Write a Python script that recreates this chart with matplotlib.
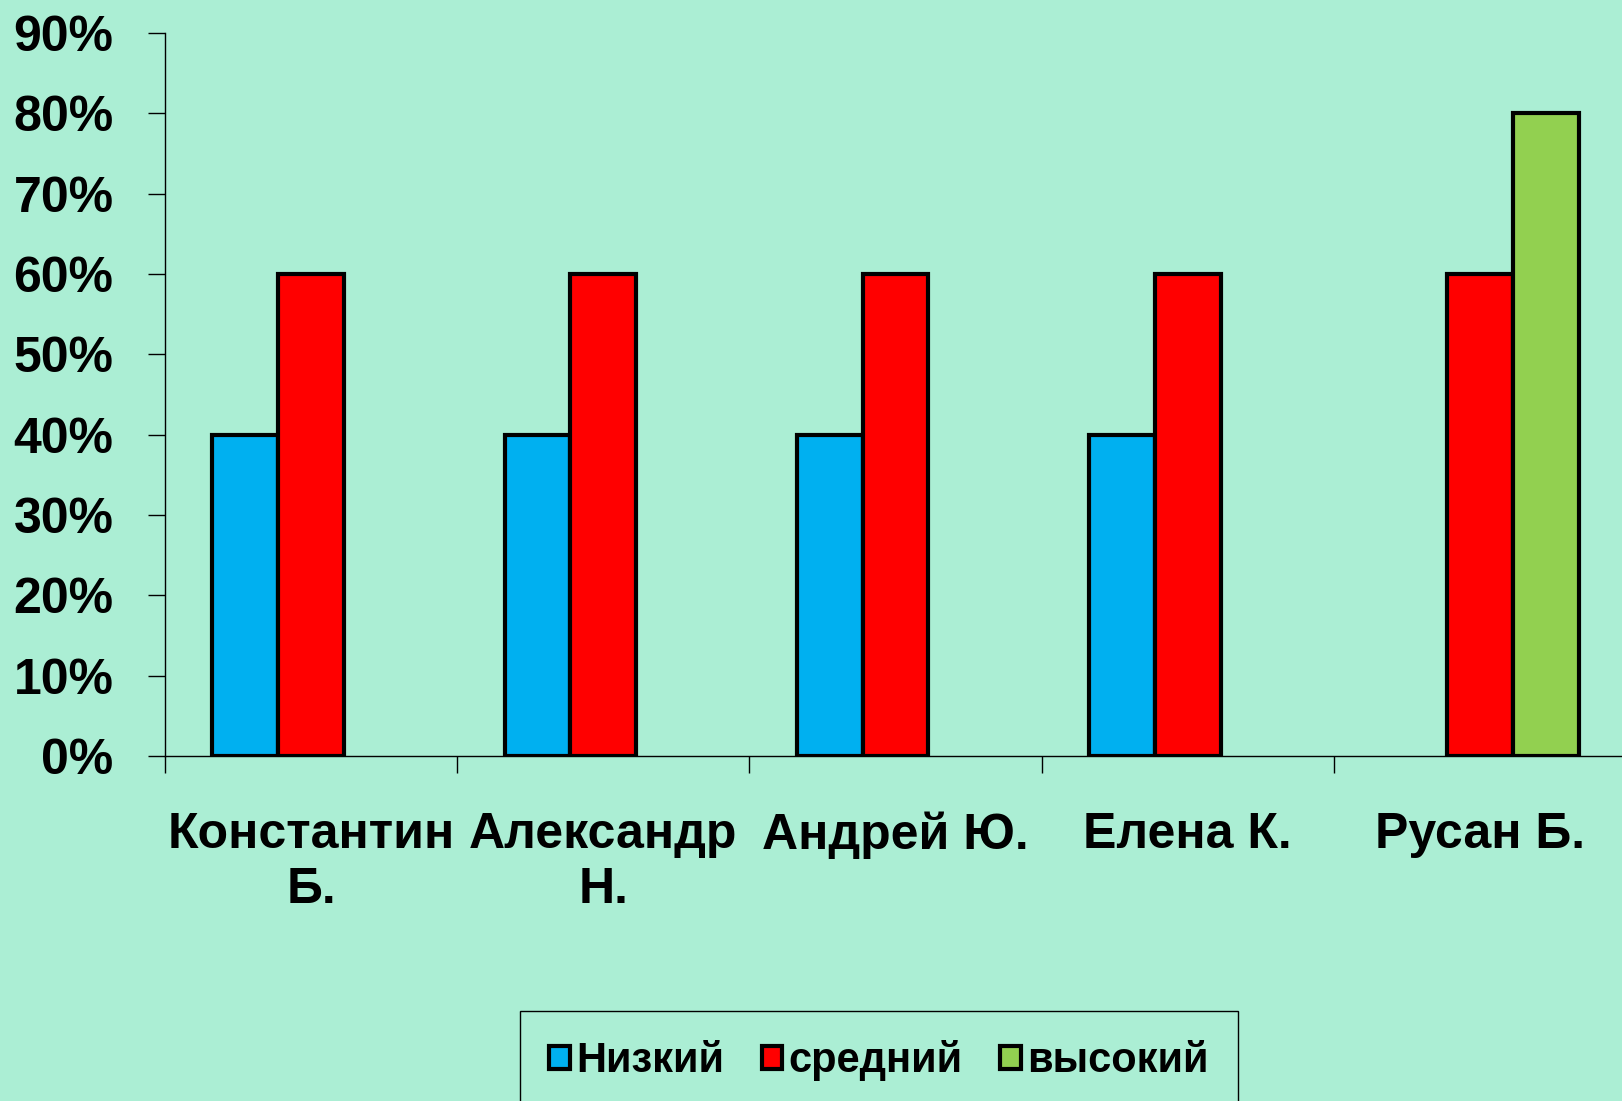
"""
Уровни по ученикам: низкий / средний / высокий
"""
import matplotlib
matplotlib.use('Agg')
import matplotlib.pyplot as plt
import matplotlib.ticker as mticker
import numpy as np

plt.rcParams['font.family'] = ['Liberation Sans', 'DejaVu Sans']
plt.rcParams['font.weight'] = 'bold'

BG = '#ABEED4'
BLUE = '#00B0F0'
RED = '#FF0000'
GREEN = '#92D050'

names = ['Константин\nБ.', 'Александр\nН.', 'Андрей Ю.', 'Елена К.', 'Русан Б.']
series = ['Низкий', 'средний', 'высокий']
low = [0.40, 0.40, 0.40, 0.40, 0.0]
mid = [0.60, 0.60, 0.60, 0.60, 0.60]
high = [0.0, 0.0, 0.0, 0.0, 0.80]
colors = [BLUE, RED, GREEN]

W, H = 1622, 1101
fig = plt.figure(figsize=(W / 100, H / 100), dpi=100, facecolor=BG)
ax = fig.add_axes([165 / W, 1 - 756 / H, 1461 / W, (756 - 33) / H])
ax.set_facecolor(BG)

x = np.arange(len(names))
bw = 0.225
for i, (vals, col, lab) in enumerate(zip([low, mid, high], colors, series)):
    v = np.array(vals)
    mask = v > 0
    ax.bar(x[mask] + (i - 1) * bw, v[mask], width=bw, color=col,
           edgecolor='black', linewidth=3.0, label=lab, zorder=3)

ax.set_xlim(-0.5, len(names) - 0.5)
ax.set_ylim(0, 0.9)
ax.yaxis.set_major_locator(mticker.MultipleLocator(0.1))
ax.yaxis.set_major_formatter(mticker.PercentFormatter(1.0, decimals=0))

ax.set_xticks(x)
ax.set_xticklabels(names, fontsize=36, fontweight='bold', linespacing=1.25)
ax.set_xticks(np.arange(-0.5, len(names), 1.0), minor=True)
ax.tick_params(axis='x', which='major', length=0, pad=40)
ax.tick_params(axis='x', which='minor', length=12, width=1, direction='out')
ax.tick_params(axis='y', length=12, width=1, direction='out', pad=25, labelsize=36)
for t in ax.get_yticklabels():
    t.set_fontweight('bold')

ax.spines['top'].set_visible(False)
ax.spines['right'].set_visible(False)
ax.spines['left'].set_linewidth(1)
ax.spines['bottom'].set_linewidth(1)

leg = fig.legend(loc='upper center', bbox_to_anchor=(879 / W, 1 - 1011 / H),
                 ncol=3, fontsize=30, frameon=True, fancybox=False,
                 edgecolor='black', facecolor=BG, framealpha=1,
                 handlelength=0.5, handleheight=0.5, handletextpad=0.15,
                 columnspacing=0.9, borderpad=0.7, borderaxespad=0)
leg.get_frame().set_linewidth(1)
for t in leg.get_texts():
    t.set_fontweight('bold')

plt.savefig('out.png', dpi=100, facecolor=BG)
plt.close()
